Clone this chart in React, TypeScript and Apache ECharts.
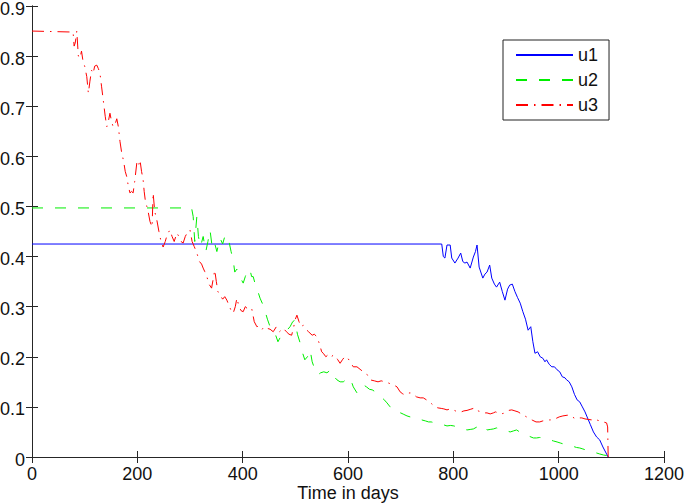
import React, { useEffect, useRef } from "react";
import * as echarts from "echarts";

const xTicks = { min: 0, max: 1200, interval: 200 };
const yTicks = { min: 0, max: 0.9, interval: 0.1 };
const seriesNames = ["u1", "u2", "u3"];

const u1: number[][] = [
  [0, 0.425], [778, 0.425], [781, 0.4], [784, 0.397], [788, 0.423], [794, 0.423], [797, 0.397],
  [803, 0.387], [809, 0.397], [814, 0.407], [818, 0.39], [822, 0.387], [826, 0.389], [832, 0.377],
  [838, 0.399], [842, 0.41], [845, 0.423], [849, 0.379], [856, 0.357], [860, 0.365], [864, 0.369],
  [869, 0.383], [873, 0.357], [878, 0.345], [882, 0.339], [888, 0.349], [893, 0.33], [898, 0.313],
  [903, 0.335], [907, 0.343], [912, 0.345], [917, 0.33], [922, 0.318], [927, 0.307], [932, 0.29],
  [937, 0.275], [942, 0.253], [947, 0.26], [951, 0.23], [955, 0.207], [960, 0.21], [965, 0.2],
  [970, 0.197], [974, 0.19], [977, 0.194], [982, 0.185], [987, 0.18], [992, 0.18], [997, 0.174],
  [1002, 0.17], [1007, 0.16], [1012, 0.158], [1015, 0.154], [1020, 0.15], [1025, 0.14], [1030, 0.125],
  [1035, 0.114], [1040, 0.11], [1045, 0.1], [1050, 0.09], [1054, 0.08], [1060, 0.065], [1066, 0.05],
  [1072, 0.04], [1078, 0.034], [1084, 0.02], [1090, 0.008], [1094, 0],
];

const u2: number[][] = [
  [0, 0.497], [303, 0.497], [306, 0.48], [309, 0.43], [313, 0.48], [316, 0.44], [320, 0.42],
  [325, 0.44], [330, 0.41], [334, 0.43], [338, 0.453], [342, 0.42], [346, 0.43], [351, 0.41],
  [357, 0.437], [362, 0.425], [366, 0.44], [370, 0.427], [374, 0.43], [378, 0.41], [382, 0.393],
  [385, 0.369], [389, 0.375], [393, 0.37], [397, 0.355], [401, 0.347], [405, 0.36], [410, 0.375],
  [414, 0.373], [417, 0.36], [420, 0.36], [425, 0.34], [429, 0.33], [433, 0.317], [438, 0.305],
  [442, 0.293], [447, 0.275], [452, 0.26], [457, 0.255], [462, 0.245], [467, 0.23], [472, 0.24],
  [478, 0.245], [484, 0.253], [490, 0.26], [495, 0.27], [499, 0.273], [504, 0.245], [509, 0.228],
  [513, 0.21], [518, 0.194], [523, 0.2], [528, 0.214], [532, 0.19], [537, 0.175], [543, 0.164],
  [548, 0.168], [554, 0.17], [560, 0.168], [565, 0.172], [569, 0.174], [574, 0.16], [579, 0.154],
  [585, 0.15], [591, 0.15], [597, 0.155], [604, 0.158], [610, 0.14], [617, 0.128], [623, 0.138],
  [629, 0.144], [635, 0.14], [641, 0.135], [646, 0.134], [652, 0.13], [657, 0.128], [663, 0.12],
  [668, 0.115], [674, 0.108], [680, 0.1], [686, 0.095], [690, 0.09], [695, 0.088], [700, 0.088],
  [706, 0.085], [712, 0.082], [718, 0.08], [724, 0.08], [730, 0.078], [735, 0.076], [740, 0.074],
  [747, 0.072], [753, 0.07], [758, 0.07], [765, 0.068], [771, 0.066], [776, 0.065], [782, 0.064],
  [788, 0.062], [795, 0.063], [801, 0.062], [807, 0.06], [813, 0.058], [819, 0.056], [826, 0.054],
  [832, 0.055], [838, 0.056], [845, 0.06], [851, 0.064], [857, 0.06], [864, 0.054], [870, 0.055],
  [876, 0.056], [882, 0.058], [888, 0.056], [895, 0.054], [902, 0.052], [908, 0.05], [914, 0.052],
  [920, 0.054], [926, 0.05], [932, 0.047], [939, 0.044], [945, 0.041], [952, 0.038], [958, 0.038],
  [964, 0.039], [971, 0.038], [978, 0.036], [984, 0.034], [990, 0.032], [997, 0.03], [1003, 0.028],
  [1009, 0.026], [1015, 0.024], [1022, 0.022], [1028, 0.021], [1034, 0.019], [1040, 0.018],
  [1046, 0.016], [1052, 0.014], [1059, 0.012], [1065, 0.01], [1072, 0.008], [1078, 0.006],
  [1085, 0.004], [1091, 0.003], [1095, 0],
];

const u3: number[][] = [
  [0, 0.85], [78, 0.848], [80, 0.82], [82, 0.826], [84, 0.84], [85, 0.85], [88, 0.8], [91, 0.796],
  [94, 0.81], [97, 0.789], [100, 0.78], [104, 0.759], [107, 0.726], [110, 0.75], [113, 0.772],
  [116, 0.765], [119, 0.78], [123, 0.782], [126, 0.775], [129, 0.766], [132, 0.74], [136, 0.706],
  [139, 0.68], [142, 0.659], [145, 0.67], [148, 0.686], [151, 0.67], [154, 0.659], [158, 0.665],
  [161, 0.675], [164, 0.659], [167, 0.63], [170, 0.609], [174, 0.59], [177, 0.57], [180, 0.559],
  [183, 0.54], [186, 0.527], [189, 0.53], [192, 0.527], [195, 0.55], [199, 0.587], [202, 0.58],
  [205, 0.593], [208, 0.57], [211, 0.553], [213, 0.53], [215, 0.513], [218, 0.5], [221, 0.487],
  [224, 0.47], [228, 0.459], [230, 0.527], [233, 0.49], [237, 0.473], [241, 0.45], [245, 0.43],
  [249, 0.419], [253, 0.43], [257, 0.445], [262, 0.453], [266, 0.44], [270, 0.43], [275, 0.447],
  [279, 0.44], [283, 0.43], [287, 0.427], [291, 0.44], [296, 0.45], [300, 0.453], [304, 0.43],
  [308, 0.42], [313, 0.407], [318, 0.39], [322, 0.385], [325, 0.377], [328, 0.37], [332, 0.36],
  [336, 0.345], [341, 0.337], [344, 0.355], [347, 0.373], [350, 0.35], [353, 0.33], [357, 0.323],
  [362, 0.315], [366, 0.32], [370, 0.313], [375, 0.3], [379, 0.29], [382, 0.287], [386, 0.3],
  [389, 0.317], [393, 0.3], [397, 0.292], [401, 0.29], [405, 0.3], [410, 0.295], [417, 0.297],
  [422, 0.27], [427, 0.26], [432, 0.262], [437, 0.255], [441, 0.26], [446, 0.257], [452, 0.255],
  [458, 0.25], [464, 0.26], [470, 0.25], [477, 0.257], [483, 0.25], [488, 0.245], [493, 0.243],
  [497, 0.26], [500, 0.275], [503, 0.283], [507, 0.27], [511, 0.26], [515, 0.263], [520, 0.255],
  [525, 0.25], [532, 0.243], [536, 0.245], [541, 0.24], [546, 0.225], [550, 0.21], [553, 0.207],
  [558, 0.2], [563, 0.205], [568, 0.2], [572, 0.203], [575, 0.203], [580, 0.195], [585, 0.187],
  [590, 0.195], [594, 0.2], [598, 0.2], [604, 0.19], [610, 0.18], [617, 0.18], [623, 0.175],
  [629, 0.17], [636, 0.165], [642, 0.154], [650, 0.152], [657, 0.15], [663, 0.152], [670, 0.15],
  [676, 0.148], [683, 0.145], [688, 0.143], [693, 0.14], [699, 0.13], [704, 0.126], [708, 0.124],
  [713, 0.127], [718, 0.128], [724, 0.125], [730, 0.12], [737, 0.118], [743, 0.118], [749, 0.114],
  [755, 0.11], [760, 0.105], [765, 0.1], [771, 0.098], [777, 0.097], [782, 0.096], [788, 0.094],
  [794, 0.096], [800, 0.094], [806, 0.091], [809, 0.09], [815, 0.09], [820, 0.092], [826, 0.093],
  [832, 0.095], [838, 0.097], [841, 0.098], [847, 0.092], [853, 0.09], [858, 0.088], [864, 0.088],
  [870, 0.086], [876, 0.088], [880, 0.09], [885, 0.088], [890, 0.086], [895, 0.087], [900, 0.09],
  [905, 0.093], [911, 0.094], [917, 0.092], [923, 0.09], [929, 0.086], [934, 0.083], [939, 0.08],
  [945, 0.076], [951, 0.073], [957, 0.07], [964, 0.07], [970, 0.072], [977, 0.073], [983, 0.074],
  [989, 0.074], [995, 0.077], [1001, 0.08], [1008, 0.082], [1014, 0.083], [1021, 0.084],
  [1026, 0.08], [1032, 0.076], [1038, 0.078], [1044, 0.078], [1050, 0.076], [1056, 0.075],
  [1063, 0.074], [1068, 0.076], [1072, 0.074], [1078, 0.072], [1085, 0.07], [1091, 0.068],
  [1093, 0.06], [1094, 0],
];

const FONT = "'Liberation Sans', Arial, Helvetica, sans-serif";
const AXIS_COLOR = "#262626";

export default function App() {
  const ref = useRef<HTMLDivElement>(null);
  useEffect(() => {
    if (!ref.current) return;
    const chart = echarts.init(ref.current, undefined, { renderer: "svg" });
    const baseAxis = {
      axisLine: { show: true, lineStyle: { color: AXIS_COLOR, width: 1 } },
      axisTick: { show: true, inside: true, length: 6, lineStyle: { color: AXIS_COLOR } },
      splitLine: { show: false },
    };
    chart.setOption({
      animation: false,
      backgroundColor: "#fff",
      textStyle: { fontFamily: FONT },
      grid: {
        left: 32,
        right: 21,
        top: 6,
        bottom: 46,
        containLabel: false,
        outerBoundsMode: "none",
      },
      legend: {
        data: seriesNames,
        orient: "vertical",
        left: 503,
        top: 40,
        itemWidth: 57,
        itemHeight: 14,
        itemGap: 7,
        padding: [6, 11, 6, 12],
        borderColor: "#222",
        borderWidth: 1,
        backgroundColor: "#fff",
        itemStyle: { opacity: 0 },
        textStyle: { fontSize: 18, color: "#111", fontFamily: FONT },
      },
      xAxis: [
        {
          type: "value",
          position: "bottom",
          ...xTicks,
          ...baseAxis,
          name: "Time in days",
          nameLocation: "middle",
          nameGap: 27,
          nameMoveOverlap: false,
          nameTextStyle: { fontSize: 18, color: "#111", fontFamily: FONT },
          axisLabel: {
            fontSize: 18,
            color: "#111",
            margin: 8,
            fontFamily: FONT,
            formatter: (v: number) => String(v),
          },
        },
        {
          type: "value",
          position: "top",
          ...xTicks,
          ...baseAxis,
          axisLabel: { show: false },
        },
      ],
      yAxis: [
        {
          type: "value",
          position: "left",
          ...yTicks,
          ...baseAxis,
          axisLabel: {
            fontSize: 18,
            color: "#111",
            margin: 7,
            fontFamily: FONT,
            formatter: (v: number) => "{v|" + (v === 0 ? "0" : v.toFixed(1)) + "}",
            rich: {
              v: { fontSize: 18, color: "#111", fontFamily: FONT, padding: [5, 0, 0, 0] },
            },
          },
        },
        {
          type: "value",
          position: "right",
          ...yTicks,
          ...baseAxis,
          axisLabel: { show: false },
        },
      ],
      series: [
        {
          name: seriesNames[0],
          type: "line",
          data: u1,
          symbol: "none",
          lineStyle: { color: "#0000ff", width: 1, type: "solid" },
          itemStyle: { color: "#0000ff" },
        },
        {
          name: seriesNames[1],
          type: "line",
          data: u2,
          symbol: "none",
          lineStyle: { color: "#00ee00", width: 1, type: [11, 12] },
          itemStyle: { color: "#00ee00" },
        },
        {
          name: seriesNames[2],
          type: "line",
          data: u3,
          symbol: "none",
          lineStyle: { color: "#ff0000", width: 1, type: [12, 6, 1.5, 6] },
          itemStyle: { color: "#ff0000" },
        },
      ],
    });
    return () => chart.dispose();
  }, []);
  return (
    <div
      ref={ref}
      style={{ position: "fixed", left: 0, top: 0, width: 685, height: 503 }}
    />
  );
}
